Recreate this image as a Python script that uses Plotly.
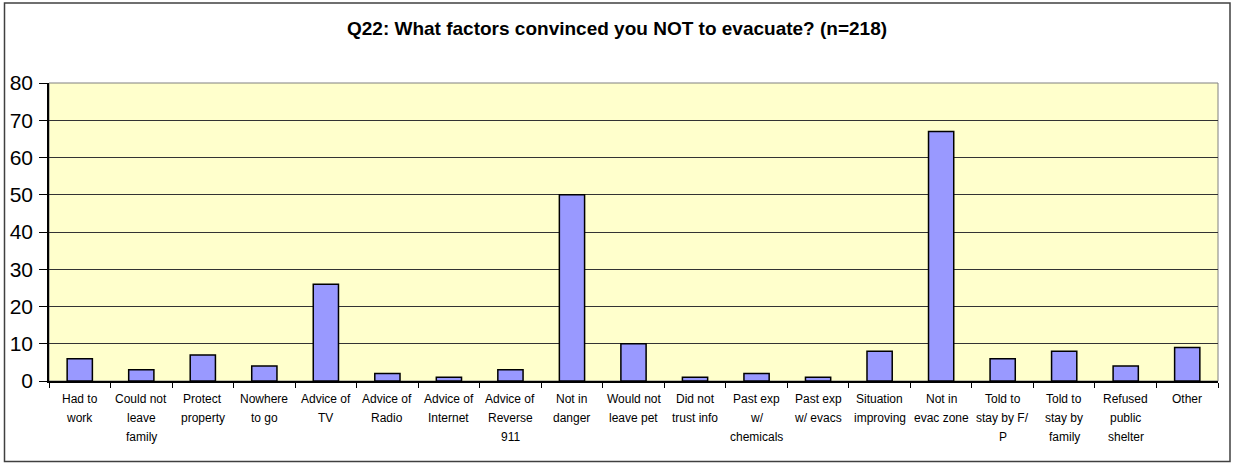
import plotly.graph_objects as go

# Survey responses: reasons for not evacuating (n=218)
categories = [
    "Had to work", "Could not leave family", "Protect property", "Nowhere to go",
    "Advice of TV", "Advice of Radio", "Advice of Internet", "Advice of Reverse 911",
    "Not in danger", "Would not leave pet", "Did not trust info",
    "Past exp w/ chemicals", "Past exp w/ evacs", "Situation improving",
    "Not in evac zone", "Told to stay by F/P", "Told to stay by family",
    "Refused public shelter", "Other",
]
counts = [6, 3, 7, 4, 26, 2, 1, 3, 50, 10, 1, 2, 1, 8, 67, 6, 8, 4, 9]

# Wrapped axis labels, one list of lines per category
label_lines = [
    ["Had to", "work"], ["Could not", "leave", "family"], ["Protect", "property"],
    ["Nowhere", "to go"], ["Advice of", "TV"], ["Advice of", "Radio"],
    ["Advice of", "Internet"], ["Advice of", "Reverse", "911"], ["Not in", "danger"],
    ["Would not", "leave pet"], ["Did not", "trust info"], ["Past exp", "w/", "chemicals"],
    ["Past exp", "w/ evacs"], ["Situation", "improving"], ["Not in", "evac zone"],
    ["Told to", "stay by F/", "P"], ["Told to", "stay by", "family"],
    ["Refused", "public", "shelter"], ["Other"],
]
y_ticks = [0, 10, 20, 30, 40, 50, 60, 70, 80]
title_text = "Q22: What factors convinced you NOT to evacuate? (n=218)"

W, H = 1233, 463
ML, MR, MT, MB = 49, 15, 83, 82
PW, PH = W - ML - MR, H - MT - MB
FONT = "Liberation Sans, Arial"

fig = go.Figure(go.Bar(
    x=categories, y=counts,
    marker=dict(color="#9999FF", line=dict(color="#000000", width=1.5)),
    width=0.41,
))

annotations = []
for cat, lines in zip(categories, label_lines):
    for i, line in enumerate(lines):
        annotations.append(dict(
            x=cat, y=0, xref="x", yref="y", text=line, showarrow=False,
            yanchor="middle", xanchor="center", yshift=-(18 + 19 * i),
            font=dict(family=FONT, size=12, color="#000000"),
        ))
annotations.append(dict(
    x=(W / 2 - ML) / PW, y=(H - MB - 29) / PH, xref="paper", yref="paper",
    text="<b>" + title_text + "</b>", showarrow=False,
    xanchor="center", yanchor="middle",
    font=dict(family=FONT, size=19, color="#000000"),
))

shapes = [
    # chart frame
    dict(type="rect", xref="paper", yref="paper",
         x0=(4.5 - ML) / PW, x1=(1230 - ML) / PW,
         y0=(H - MB - 461.5) / PH, y1=(H - MB - 3) / PH,
         line=dict(color="#404040", width=1.5), fillcolor="rgba(0,0,0,0)", layer="below"),
    # plot area border
    dict(type="rect", xref="paper", yref="paper", x0=0, x1=1, y0=0, y1=1,
         line=dict(color="#808080", width=1), fillcolor="rgba(0,0,0,0)", layer="below"),
]

fig.update_layout(
    width=W, height=H,
    margin=dict(l=ML, r=MR, t=MT, b=MB, autoexpand=False),
    paper_bgcolor="#FFFFFF", plot_bgcolor="#FFFFCC",
    showlegend=False,
    bargap=0.59,
    annotations=annotations,
    shapes=shapes,
    font=dict(family=FONT, color="#000000"),
)
fig.update_xaxes(
    type="category", showticklabels=False, showgrid=False, automargin=False,
    ticks="outside", tickson="boundaries", ticklen=5, tickcolor="#000000",
    showline=True, linecolor="#000000", linewidth=1.5,
    range=[-0.5, len(categories) - 0.5],
)
fig.update_yaxes(
    range=[0, 80], tickvals=y_ticks, automargin=False,
    ticks="outside", ticklen=8, tickcolor="#000000",
    ticklabelstandoff=2,
    showgrid=True, gridcolor="#333333", gridwidth=1,
    showline=True, linecolor="#000000", linewidth=1.5,
    zeroline=False,
    tickfont=dict(family=FONT, size=21, color="#000000"),
)

fig.write_html("out.html")
